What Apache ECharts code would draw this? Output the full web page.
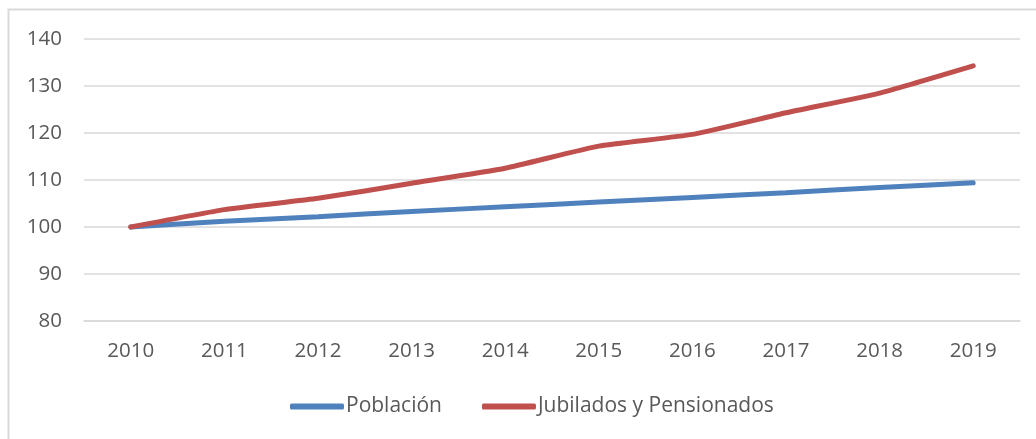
<!DOCTYPE html>
<html>
<head>
<meta charset="utf-8">
<script src="https://cdn.jsdelivr.net/npm/echarts@6/dist/echarts.min.js"></script>
<style>
  html, body { margin: 0; padding: 0; background: #fff; }
  #chart { width: 1036px; height: 439px; }
</style>
</head>
<body>
<div id="chart"></div>
<script>
// data
const years = ['2010', '2011', '2012', '2013', '2014', '2015', '2016', '2017', '2018', '2019']
const poblacion = [100, 101.2, 102.2, 103.3, 104.3, 105.3, 106.3, 107.3, 108.4, 109.4]
const jubilados = [100, 103.7, 106.1, 109.3, 112.5, 117.2, 119.7, 124.3, 128.5, 134.3]
const seriesNames = ['Población', 'Jubilados y Pensionados']

const labelColor = '#595959'
const gridColor = '#d9d9d9'
const font = '"Open Sans", sans-serif'

const chart = echarts.init(document.getElementById('chart'))
chart.setOption({
    animation: false,
    textStyle: { fontFamily: font },
    graphic: [{
        // outer chart frame (only left and top edges visible in the reference)
        type: 'rect',
        shape: { x: 8.5, y: 9.5, width: 1100, height: 500 },
        style: { fill: 'none', stroke: gridColor, lineWidth: 2 },
        silent: true
    }],
    grid: {
        left: 84,
        right: 16,
        top: 39,
        bottom: 118
    },
    legend: {
        data: seriesNames,
        bottom: 17,
        left: 285,
        icon: 'roundRect',
        itemWidth: 54,
        itemHeight: 6,
        itemGap: 40,
        textStyle: {
            color: labelColor,
            fontSize: 21,
            fontFamily: font,
            padding: [0, 0, 0, -3]
        }
    },
    xAxis: {
        type: 'category',
        data: years,
        boundaryGap: true,
        axisLine: { show: true, lineStyle: { color: gridColor, width: 1.5 } },
        axisTick: { show: false },
        axisLabel: { color: labelColor, fontSize: 20.5, margin: 20, fontFamily: font }
    },
    yAxis: {
        type: 'value',
        min: 80,
        max: 140,
        interval: 10,
        axisLine: { show: false },
        axisTick: { show: false },
        axisLabel: { color: labelColor, fontSize: 20.5, margin: 22, fontFamily: font },
        splitLine: { lineStyle: { color: gridColor, width: 1.5 } }
    },
    series: [{
        name: seriesNames[0],
        type: 'line',
        data: poblacion,
        smooth: 0.15,
        symbol: 'none',
        itemStyle: { color: '#4f81bd' },
        lineStyle: { color: '#4f81bd', width: 5, cap: 'round' }
    },
    {
        name: seriesNames[1],
        type: 'line',
        data: jubilados,
        smooth: 0.15,
        symbol: 'none',
        itemStyle: { color: '#c0504d' },
        lineStyle: { color: '#c0504d', width: 5, cap: 'round' }
    }]
})
</script>
</body>
</html>
